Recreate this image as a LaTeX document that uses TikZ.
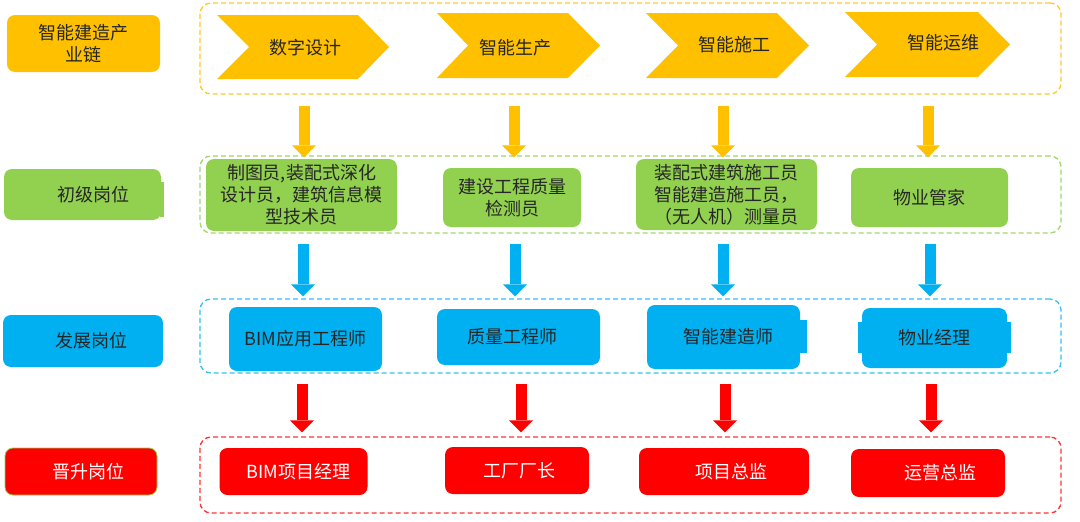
\documentclass[tikz,border=0pt]{standalone}
\usepackage{fontspec}
\setmainfont{Noto Sans CJK SC}
\usepackage{color, xcolor}
\usepackage{tikz}
\usetikzlibrary{arrows.meta}

\definecolor{chainor}{HTML}{FFC000}
\definecolor{jungreen}{HTML}{92D050}
\definecolor{devblue}{HTML}{00B0F0}
\definecolor{prored}{HTML}{FF0000}

\newcommand{\boxfont}{\fontsize{18}{22}\selectfont}

\begin{document}
\begin{tikzpicture}[x=1pt, y=-1pt,
    lane/.style={draw=#1, line width=1.3pt, dash pattern=on 5pt off 3pt, rounded corners=11pt, minimum width=861pt, inner sep=0pt},
    tag/.style={fill=#1, rounded corners=8pt, inner sep=0pt, align=center, font=\boxfont, text=black!85},
    blk/.style={draw=#1, line width=11pt, -{Triangle[width=24pt, length=12pt, line width=0pt]}}]
  \useasboundingbox (0,0) rectangle (1080,522);

  % row titles on the left
  \node[tag=chainor, minimum width=153pt, minimum height=57pt] (chainL) at (83.5,43.5) {智能建造产\\业链};
  \fill[jungreen] (160,182) rectangle (164,217);
  \node[tag=jungreen, minimum width=157pt, minimum height=51pt] (juniorL) at (82.5,194.5) {\hspace*{22pt}初级岗位};
  \node[tag=devblue, minimum width=160pt, minimum height=52pt] (developL) at (83,341) {\hspace*{16pt}发展岗位};
  \node[tag=prored, draw=jungreen, line width=0.8pt, text=white, minimum width=152pt, minimum height=47pt] (promoteL) at (81,471.5) {\hspace*{14pt}晋升岗位};

  % dashed lanes
  \node[lane=chainor!85, minimum height=91pt] (chain) at (630.5,48.5) {};
  \node[lane=jungreen!85, minimum height=77pt] (junior) at (630.5,194.5) {};
  \node[lane=devblue!80, minimum height=74pt] (develop) at (630.5,336) {};
  \node[lane=prored!80, minimum height=76pt] (promote) at (630.5,475) {};

  % chain of the industry
  \fill[chainor] (217,15) -- (358,15) -- (389,47) -- (358,79) -- (217,79) -- (249,47) -- cycle;
  \fill[chainor] (437,13) -- (568,13) -- (600,45.5) -- (568,78) -- (437,78) -- (468,45.5) -- cycle;
  \fill[chainor] (646,13) -- (777,13) -- (809,45.5) -- (777,78) -- (646,78) -- (678,45.5) -- cycle;
  \fill[chainor] (845,12) -- (978,12) -- (1010,44.5) -- (978,77) -- (845,77) -- (877,44.5) -- cycle;
  \node[font=\boxfont, text=black!85] (design) at (305,48) {数字设计};
  \node[font=\boxfont, text=black!85] (production) at (515,48) {智能生产};
  \node[font=\boxfont, text=black!85] (construction) at (734,45) {智能施工};
  \node[font=\boxfont, text=black!85] (operation) at (943,43) {智能运维};

  % junior posts
  \node[tag=jungreen, minimum width=191pt, minimum height=72pt] (g1) at (301.5,195) {制图员,装配式深化\\设计员，建筑信息模\\型技术员};
  \node[tag=jungreen, minimum width=138pt, minimum height=59pt] (g2) at (512,197.5) {建设工程质量\\检测员};
  \node[tag=jungreen, minimum width=181pt, minimum height=71pt] (g3) at (726.5,194.5) {装配式建筑施工员\\智能建造施工员，\\（无人机）测量员};
  \node[tag=jungreen, minimum width=157pt, minimum height=59pt] (g4) at (929.5,197.5) {物业管家};

  % development posts
  \node[tag=devblue, minimum width=153pt, minimum height=64pt] (b1) at (305.5,339) {BIM应用工程师};
  \node[tag=devblue, minimum width=163pt, minimum height=56pt] (b2) at (518.5,337) {质量工程师\hspace*{12pt}};
  \fill[devblue] (799,320) rectangle (807,353);
  \node[tag=devblue, minimum width=153pt, minimum height=64pt] (b3) at (723.5,337) {\hspace*{9pt}智能建造师};
  \fill[devblue] (858,322) rectangle (863,353);
  \fill[devblue] (1006,322) rectangle (1011,353);
  \node[tag=devblue, minimum width=145pt, minimum height=60pt] (b4) at (934.5,338) {物业经理};

  % promotion posts
  \node[tag=prored, text=white, minimum width=148pt, minimum height=47pt] (r1) at (293.5,471.5) {\hspace*{10pt}BIM项目经理};
  \node[tag=prored, text=white, minimum width=144pt, minimum height=47pt] (r2) at (517,470.5) {\hspace*{4pt}工厂厂长};
  \node[tag=prored, text=white, minimum width=170pt, minimum height=47pt] (r3) at (724,471.5) {\hspace*{14pt}项目总监};
  \node[tag=prored, text=white, minimum width=154pt, minimum height=48pt] (r4) at (928,473) {\hspace*{24pt}运营总监};

  % block arrows between the lanes
  \draw[blk=chainor] ([yshift=-11pt]304,0 |- chain.south) -- ([yshift=-2pt]304,0 |- junior.north);
  \draw[blk=chainor] ([yshift=-11pt]514,0 |- chain.south) -- ([yshift=-2pt]514,0 |- junior.north);
  \draw[blk=chainor] ([yshift=-11pt]723,0 |- chain.south) -- ([yshift=-2pt]723,0 |- junior.north);
  \draw[blk=chainor] ([yshift=-11pt]928,0 |- chain.south) -- ([yshift=-2pt]928,0 |- junior.north);
  \draw[blk=devblue] ([yshift=-10pt]303,0 |- junior.south) -- ([yshift=2pt]303,0 |- develop.north);
  \draw[blk=devblue] ([yshift=-10pt]515,0 |- junior.south) -- ([yshift=2pt]515,0 |- develop.north);
  \draw[blk=devblue] ([yshift=-10pt]723,0 |- junior.south) -- ([yshift=2pt]723,0 |- develop.north);
  \draw[blk=devblue] ([yshift=-10pt]930,0 |- junior.south) -- ([yshift=2pt]930,0 |- develop.north);
  \draw[blk=prored] ([yshift=-10pt]302,0 |- develop.south) -- ([yshift=4pt]302,0 |- promote.north);
  \draw[blk=prored] ([yshift=-10pt]521,0 |- develop.south) -- ([yshift=4pt]521,0 |- promote.north);
  \draw[blk=prored] ([yshift=-10pt]725,0 |- develop.south) -- ([yshift=4pt]725,0 |- promote.north);
  \draw[blk=prored] ([yshift=-10pt]931,0 |- develop.south) -- ([yshift=4pt]931,0 |- promote.north);
\end{tikzpicture}
\end{document}
